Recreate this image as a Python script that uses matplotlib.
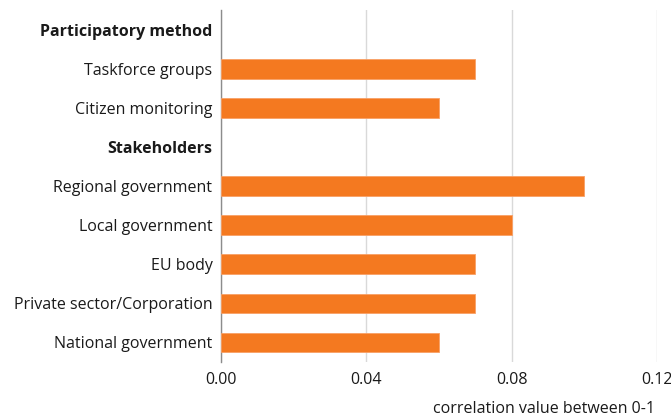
import numpy as np
from matplotlib import pyplot as plt

# rows from top to bottom; None = group header without bar
labels = ["Participatory method", "Taskforce groups", "Citizen monitoring",
          "Stakeholders", "Regional government", "Local government",
          "EU body", "Private sector/Corporation", "National government"]
values = [None, 0.07, 0.06, None, 0.10, 0.08, 0.07, 0.07, 0.06]
headers = ["Participatory method", "Stakeholders"]
xticks = [0.00, 0.04, 0.08, 0.12]

plt.rcParams['font.family'] = ['Open Sans', 'DejaVu Sans']

fig = plt.figure(figsize=(6.71, 4.2), dpi=100)
ax = fig.add_axes([0.329, 0.138, 0.65, 0.838])

ypos = np.arange(len(labels))
for y, v in zip(ypos, values):
    if v is not None:
        ax.barh(y, v, height=0.5, color='#F47920', edgecolor='#F8A066', linewidth=0.6, zorder=3)

ax.set_ylim(len(labels) - 0.5, -0.5)
ax.set_xlim(0, 0.12)
ax.set_xticks(xticks)
ax.set_xticklabels(["%.2f" % t for t in xticks])
ax.set_yticks(ypos)
ax.set_yticklabels(labels)
for t in ax.get_yticklabels():
    if t.get_text() in headers:
        t.set_fontweight('bold')

ax.grid(axis='x', color='#d9d9d9', linewidth=1, zorder=0)
for s in ['top', 'right', 'bottom']:
    ax.spines[s].set_visible(False)
ax.spines['left'].set_color('#8c8c8c')
ax.spines['left'].set_linewidth(1)
ax.tick_params(axis='both', length=0, labelsize=11.5, colors='#1a1a1a')
ax.tick_params(axis='y', pad=6)
ax.tick_params(axis='x', pad=7)

ax.set_xlabel("correlation value between 0-1", fontsize=11.5, color='#1a1a1a')
ax.xaxis.set_label_coords(0.995, -0.112)
ax.xaxis.label.set_horizontalalignment('right')

plt.savefig("out.png")
plt.close()
